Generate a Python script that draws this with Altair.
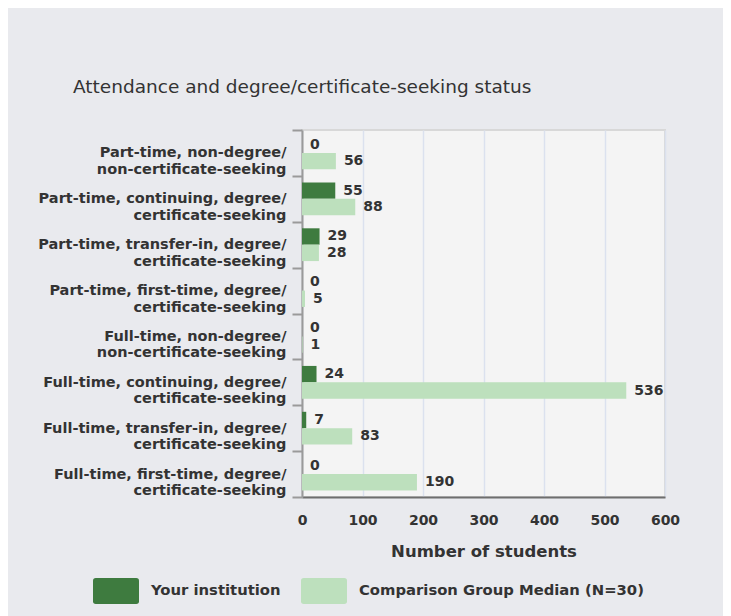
import altair as alt
import pandas as pd

categories = [
    "Part-time, non-degree/|non-certificate-seeking",
    "Part-time, continuing, degree/|certificate-seeking",
    "Part-time, transfer-in, degree/|certificate-seeking",
    "Part-time, first-time, degree/|certificate-seeking",
    "Full-time, non-degree/|non-certificate-seeking",
    "Full-time, continuing, degree/|certificate-seeking",
    "Full-time, transfer-in, degree/|certificate-seeking",
    "Full-time, first-time, degree/|certificate-seeking",
]
series = ["Your institution", "Comparison Group Median (N=30)"]
institution = [0, 55, 29, 0, 0, 24, 7, 0]
comparison = [56, 88, 28, 5, 1, 536, 83, 190]
x_ticks = [0, 100, 200, 300, 400, 500, 600]

rows = []
for c, a, b in zip(categories, institution, comparison):
    rows.append({"cat": c, "series": series[0], "value": a})
    rows.append({"cat": c, "series": series[1], "value": b})
df = pd.DataFrame(rows)

DARK = "#3e7b3f"
LIGHT = "#bde0bd"
FONT = "DejaVu Sans"
TXT = "#333333"

y_enc = alt.Y(
    "cat:N",
    sort=categories,
    title=None,
    scale=alt.Scale(paddingInner=0, paddingOuter=0),
    axis=alt.Axis(
        labelExpr="split(datum.label, '|')",
        labelFont=FONT,
        labelFontSize=14.5,
        labelFontWeight="bold",
        labelColor=TXT,
        labelLimit=0,
        labelLineHeight=16.5,
        labelPadding=6,
        tickBand="extent",
        tickSize=10,
        tickColor="#9a9a9a",
        tickWidth=2,
        domainColor="#9a9a9a",
        domainWidth=2,
        grid=False,
    ),
)
yoff_scale = alt.Scale(domain=series, paddingInner=0, paddingOuter=0.4)
x_enc = alt.X(
    "value:Q",
    scale=alt.Scale(domain=[0, 600], nice=False),
    axis=alt.Axis(
        values=x_ticks,
        title="Number of students",
        ticks=False,
        grid=True,
        gridColor="#dbe1ee",
        gridWidth=1.5,
        domainColor="#6e6e6e",
        domainWidth=2,
        labelFont=FONT,
        labelFontSize=14,
        labelFontWeight="bold",
        labelColor=TXT,
        labelPadding=16,
        labelFlush=False,
        titleFont=FONT,
        titleFontSize=16.5,
        titleFontWeight="bold",
        titleColor=TXT,
        titlePadding=16,
    ),
)

legend_path = (
    "M-0.88,-0.565 L0.88,-0.565 Q1,-0.565 1,-0.445 L1,0.445 Q1,0.565 0.88,0.565 "
    "L-0.88,0.565 Q-1,0.565 -1,0.445 L-1,-0.445 Q-1,-0.565 -0.88,-0.565 Z"
)

bars = alt.Chart(df).mark_bar(cornerRadius=0).encode(
    x=x_enc,
    y=y_enc,
    yOffset=alt.YOffset("series:N", sort=series, scale=yoff_scale),
    color=alt.Color(
        "series:N",
        sort=series,
        scale=alt.Scale(domain=series, range=[DARK, LIGHT]),
        legend=alt.Legend(
            title=None,
            orient="none",
            legendX=-209,
            legendY=438,
            direction="horizontal",
            symbolType=legend_path,
            symbolSize=2116,
            symbolStrokeWidth=0,
            symbolOpacity=1,
            labelFont=FONT,
            labelFontSize=14.8,
            labelFontWeight="bold",
            labelColor=TXT,
            labelLimit=0,
            labelOffset=12,
            columnPadding=20,
        ),
    ),
)

labels = alt.Chart(df).mark_text(
    align="left",
    baseline="middle",
    dx=8,
    fontSize=14,
    fontWeight="bold",
    color=TXT,
    font=FONT,
).encode(
    x=alt.X("value:Q"),
    y=alt.Y("cat:N", sort=categories),
    yOffset=alt.YOffset("series:N", sort=series, scale=yoff_scale),
    text=alt.Text("value:Q"),
)

chart = (
    alt.layer(bars, labels)
    .properties(
        width=363,
        height=367,
        autosize=alt.AutoSizeParams(type="none"),
        padding={"left": 294, "top": 122, "right": 58, "bottom": 119},
        background="#e9eaee",
        title=alt.TitleParams(
            "Attendance and degree/certificate-seeking status",
            anchor="start",
            frame="group",
            dx=-229,
            offset=26,
            fontSize=18.5,
            fontWeight="normal",
            color=TXT,
            font=FONT,
        ),
    )
    .configure(font=FONT)
    .configure_view(fill="#f4f4f4", stroke="#d8d8d8", strokeWidth=2)
)

chart.save("out.html", embed_options={"renderer": "svg", "actions": False})
